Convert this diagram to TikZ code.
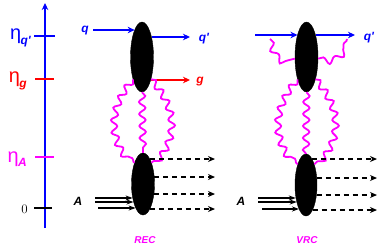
\documentclass[tikz,border=0pt]{standalone}
\usepackage{fontspec}
\newfontfamily\labfont{Liberation Sans}
\usetikzlibrary{shapes.geometric,decorations.pathmorphing,arrows.meta}
\definecolor{mag}{RGB}{255,0,255}
\definecolor{blu}{RGB}{0,0,255}
\definecolor{rd}{RGB}{255,0,0}
\newcommand{\etalab}[1]{{\labfont\fontsize{20}{20}\selectfont η}\kern-0.5pt\raisebox{-4.5pt}{\labfont\bfseries\itshape\fontsize{12}{12}\selectfont #1}}
\begin{document}
\begin{tikzpicture}[x=1bp,y=-1bp,
 blob/.style={ellipse, fill=black, draw=black, inner sep=0pt, minimum width=23bp, minimum height=70bp},
 arr/.style={-{Stealth[length=7bp,width=6.5bp]}, line width=2.2bp},
 dsh/.style={-{Stealth[length=7bp,width=6bp]}, line width=1.9bp, dash pattern=on 5bp off 4bp},
 inarr/.style={-{Stealth[length=7bp,width=5bp]}, line width=1.6bp},
 glu/.style={mag, line width=1.8bp, decorate, decoration={snake, amplitude=3.2bp, segment length=12bp}},
 lab/.style={inner sep=0pt, font=\labfont\bfseries\itshape\fontsize{12}{13}\selectfont},
 small/.style={inner sep=0pt, font=\labfont\bfseries\itshape\fontsize{10}{11}\selectfont},
 eta/.style={inner sep=0pt, anchor=east}
]
\useasboundingbox (0,0) rectangle (382,249);
% axis
\coordinate (ab) at (45,228);
\coordinate (at) at (45,3);
\draw[blu, arr, line width=2.4bp] (ab) -- (at);
\draw[blu, line width=2.4bp] (34,36) -- (55,36);
\draw[rd, line width=2.4bp] (35,79) -- (54,79);
\draw[mag, line width=2.4bp] (35,157) -- (54,157);
\draw[black, line width=2.4bp] (34,208) -- (52,208);
\node[eta, blu] (lq) at (31,38) {\etalab{q'}};
\node[eta, rd] (lg) at (27,81) {\etalab{g}};
\node[eta, mag] (la) at (27,159) {\etalab{A}};
\node[eta] (l0) at (28,209) {\fontsize{13}{13}\selectfont 0};

% ---------------- REC ----------------
\node[blob] (r1) at (142,57) {};
\node[blob, minimum height=62bp] (r2) at (143,184) {};
\coordinate (rqin) at (93,30);
\coordinate (rqo) at (190,37);
\coordinate (rgo) at (190,80);
\draw[blu, arr] (rqin) -- (rqin -| r1.105);
\draw[blu, arr] (rqo -| r1.65) -- (rqo);
\draw[rd, arr] (rgo -| r1.-69) -- (rgo);
\node[lab, blu] (tq) at (85,31) {q};
\node[lab, blu] (tq2) at (204,39) {q'};
\node[lab, rd] (tg) at (200,82) {g};
% gluons
\draw[glu] (r1.248) .. controls (110,108) and (110,138) .. (r2.112);
\draw[glu] (r1.south) -- (r2.north);
\draw[glu] (r1.292) .. controls (176,108) and (176,138) .. (r2.68);
% outgoing dashed
\coordinate (rd1) at (215,159);
\coordinate (rd2) at (215,177);
\coordinate (rd3) at (215,194);
\coordinate (rd4) at (215,209);
\draw[dsh] (rd1 -| r2.75) -- (rd1);
\draw[dsh] (rd2 -| r2.32) -- (rd2);
\draw[dsh] (rd3 -| r2.-42) -- (rd3);
\draw[dsh] (rd4 -| r2.-75) -- (rd4);
% incoming A
\coordinate (ra1) at (95,198);
\coordinate (ra2) at (95,202);
\coordinate (ra3) at (98,208);
\draw[inarr] (ra1) -- (ra1 -| r2.234);
\draw[inarr] (ra2) -- (ra2 -| r2.242);
\draw[inarr] (ra3) -- (ra3 -| r2.253);
\node[lab] (ta1) at (78,201) {A};
\node[small, mag] (trec) at (145,240) {REC};

% ---------------- VRC ----------------
\node[blob] (v1) at (306.5,57) {};
\node[blob, minimum width=22bp, minimum height=62bp] (v2) at (306,185) {};
\coordinate (vqin) at (255,35);
\coordinate (vqo) at (355,35);
\draw[blu, arr] (vqin) -- (vqin -| v1.112);
\draw[blu, arr] (vqo -| v1.68) -- (vqo);
\node[lab, blu] (tq3) at (369,38) {q'};
\coordinate (vgl) at (270,39);
\coordinate (vgr) at (347,39);
\draw[glu, decoration={snake, amplitude=3bp, segment length=14bp}] (vgl) .. controls (274,58) and (286,62) .. (v1.188);
\draw[glu, decoration={snake, amplitude=3bp, segment length=14bp}] (v1.-8) .. controls (327,62) and (340,58) .. (vgr);
% gluons
\draw[glu] (v1.248) .. controls (274,108) and (274,138) .. (v2.112);
\draw[glu] (v1.south) -- (v2.north);
\draw[glu] (v1.292) .. controls (340,108) and (340,138) .. (v2.68);
% outgoing dashed
\coordinate (vd1) at (377,159);
\coordinate (vd2) at (377,178);
\coordinate (vd3) at (377,195);
\coordinate (vd4) at (377,210);
\draw[dsh] (vd1 -| v2.77) -- (vd1);
\draw[dsh] (vd2 -| v2.33) -- (vd2);
\draw[dsh] (vd3 -| v2.-44) -- (vd3);
\draw[dsh] (vd4 -| v2.-75) -- (vd4);
% incoming A
\coordinate (va1) at (258,198);
\coordinate (va2) at (258,202);
\coordinate (va3) at (262,209);
\draw[inarr] (va1) -- (va1 -| v2.232);
\draw[inarr] (va2) -- (va2 -| v2.242);
\draw[inarr] (va3) -- (va3 -| v2.254);
\node[lab] (ta2) at (241,201) {A};
\node[small, mag] (tvrc) at (307,240) {VRC};
\end{tikzpicture}
\end{document}
